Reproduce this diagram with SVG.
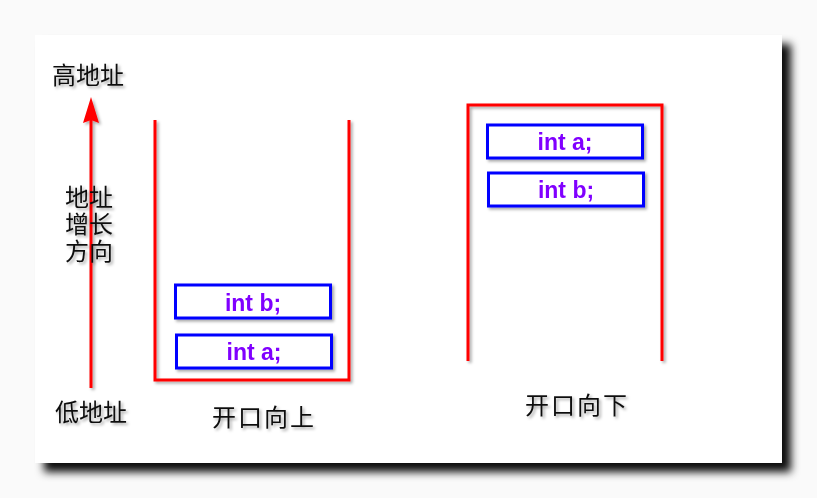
<svg xmlns="http://www.w3.org/2000/svg" width="817" height="498" viewBox="0 0 817 498">
<style>
.cn{font-family:"Noto Sans CJK SC","Liberation Serif",serif;font-size:24px;fill:#111}
.code{font-family:"Liberation Sans",Arial,sans-serif;font-weight:bold;font-size:23px;fill:#8000ff;text-anchor:middle}
.red{fill:none;stroke:#ff0000;stroke-width:3}
.box{fill:#fff;stroke:#0000ff;stroke-width:3}
</style>
<defs>
<filter id="card" x="-5%" y="-5%" width="115%" height="120%">
<feDropShadow dx="9" dy="9" stdDeviation="4.5" flood-color="#000" flood-opacity="0.95"/>
</filter>
<filter id="sh" x="-20%" y="-20%" width="150%" height="160%">
<feDropShadow dx="2" dy="2" stdDeviation="1.5" flood-color="#000" flood-opacity="0.35"/>
</filter>
<filter id="shu" filterUnits="userSpaceOnUse" x="70" y="80" width="50" height="330">
<feDropShadow dx="2" dy="2" stdDeviation="1.5" flood-color="#000" flood-opacity="0.35"/>
</filter>
</defs>
<rect width="817" height="498" fill="#fafafa"/>
<rect x="35" y="35" width="747" height="428" fill="#fff" filter="url(#card)"/>
<g id="connectors" filter="url(#shu)">
<line x1="91" y1="388" x2="91" y2="118" stroke="#ff0000" stroke-width="3"/>
<path d="M91,97 L99,123 L91,120 L83,123 Z" fill="#ff0000"/>
</g>
<g id="labels" filter="url(#sh)">
<text class="cn" x="52" y="84">高地址</text>
<text class="cn" font-size="23"><tspan x="65" y="206">地址</tspan><tspan x="65" y="233">增长</tspan><tspan x="65" y="260">方向</tspan></text>
<text class="cn" x="55" y="421">低地址</text>
</g>
<g id="stack-up" filter="url(#sh)">
<path class="red" d="M155,120 V380 H349 V120"/>
<text class="cn" x="212" y="426" style="letter-spacing:2px">开口向上</text>
</g>
<g id="up-b" filter="url(#sh)">
<rect class="box" x="175.5" y="285" width="155" height="33"/>
<text class="code" x="253" y="311">int b;</text>
</g>
<g id="up-a" filter="url(#sh)">
<rect class="box" x="176.5" y="335" width="155" height="33"/>
<text class="code" x="254" y="360">int a;</text>
</g>
<g id="stack-down" filter="url(#sh)">
<path class="red" d="M468,361 V105 H662 V361"/>
<text class="cn" x="525" y="414" style="letter-spacing:2px">开口向下</text>
</g>
<g id="down-a" filter="url(#sh)">
<rect class="box" x="487.5" y="125" width="155" height="33"/>
<text class="code" x="565" y="150">int a;</text>
</g>
<g id="down-b" filter="url(#sh)">
<rect class="box" x="488.5" y="173" width="155" height="33"/>
<text class="code" x="566" y="198">int b;</text>
</g>
</svg>
